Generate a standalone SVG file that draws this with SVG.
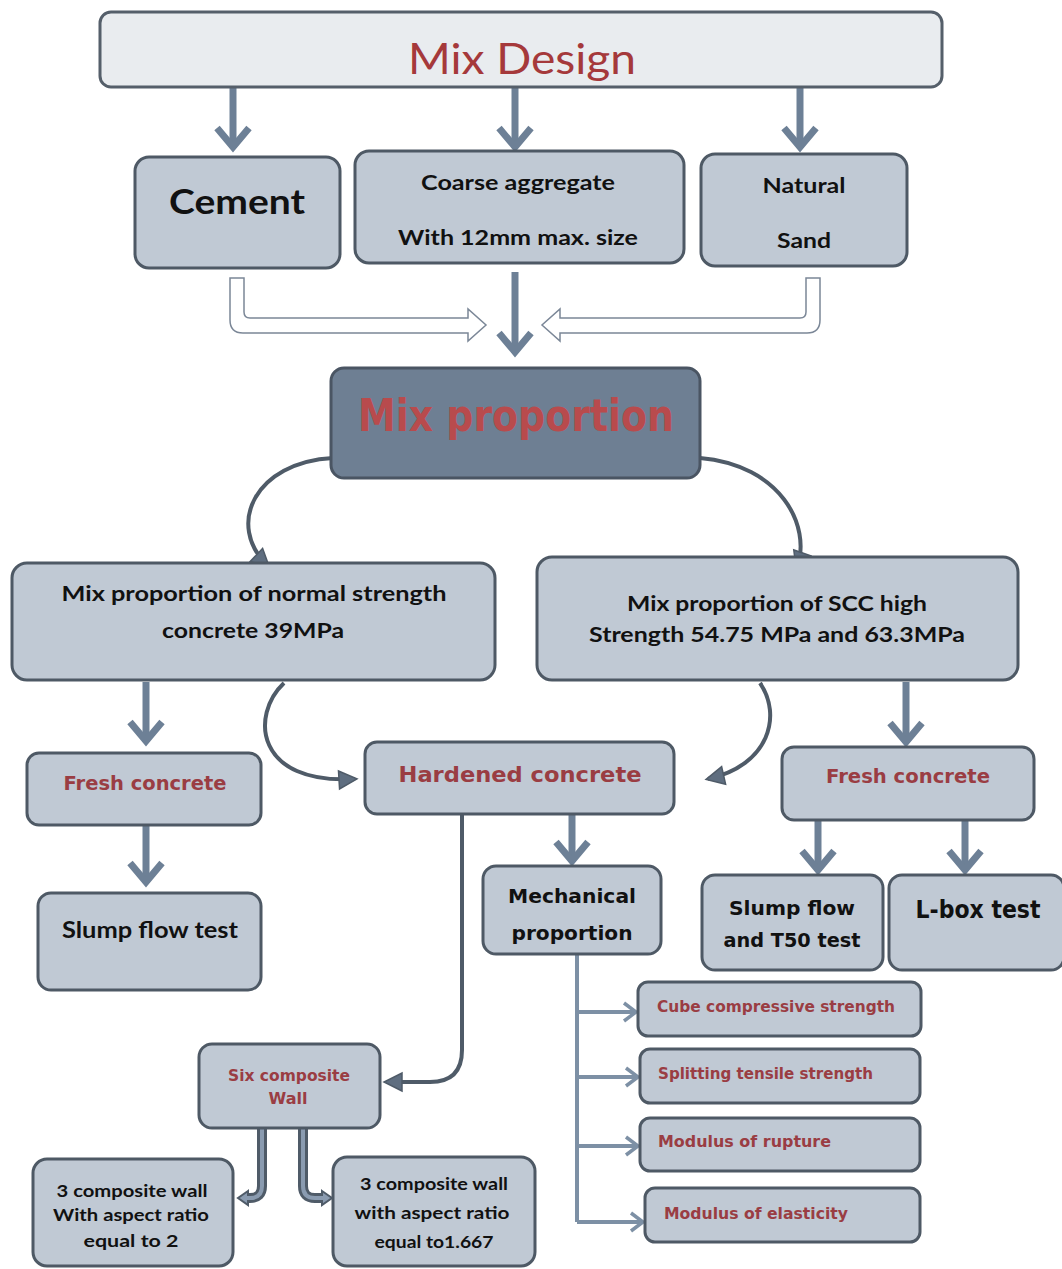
<svg xmlns="http://www.w3.org/2000/svg" width="1062" height="1269" viewBox="0 0 1062 1269">
<defs>
<style>
.box{fill:#c0c9d4;stroke:#4e5965;stroke-width:3}
.top{fill:#e9ecef;stroke:#555f6a;stroke-width:3}
.dark{fill:#6e7f93;stroke:#4a5563;stroke-width:3}
.thick{fill:none;stroke:#6d8096;stroke-width:7}
.thin{fill:none;stroke:#7d90a5;stroke-width:4}
.curve{fill:none;stroke:#4f5b68;stroke-width:4}
.hollow{fill:#ffffff;stroke:#7b8797;stroke-width:1.5}
.band{fill:none;stroke:#4f5b68;stroke-width:10}
.bandin{fill:none;stroke:#8a9bb0;stroke-width:4}
.c{font-family:Lato,"Liberation Sans",sans-serif;font-weight:bold;fill:#111111;text-anchor:middle}
.v{font-family:"DejaVu Sans","Liberation Sans",sans-serif;font-weight:bold;fill:#111111;text-anchor:middle}
.r{font-family:"DejaVu Sans","Liberation Sans",sans-serif;font-weight:bold;fill:#9a3d43}
</style>
<marker id="chev" viewBox="0 0 30 40" refX="25" refY="20" markerWidth="30" markerHeight="40" markerUnits="userSpaceOnUse" orient="auto">
<path d="M5,4 L24,20 L5,36" fill="none" stroke="#6d8096" stroke-width="7"/>
</marker>
<marker id="chevs" viewBox="0 0 20 24" refX="16" refY="12" markerWidth="20" markerHeight="24" markerUnits="userSpaceOnUse" orient="auto">
<path d="M4,3 L16,12 L4,21" fill="none" stroke="#7d90a5" stroke-width="3.5"/>
</marker>
<marker id="tri" viewBox="0 0 22 22" refX="18" refY="11" markerWidth="22" markerHeight="22" markerUnits="userSpaceOnUse" orient="auto">
<path d="M2,2 L20,11 L2,20 Z" fill="#5f6e80" stroke="#4f5b68" stroke-width="1.5"/>
</marker>
</defs>
<rect width="1062" height="1269" fill="#ffffff"/>

<g id="connectors">
<path class="thick" d="M233 87 V148" marker-end="url(#chev)"/>
<path class="thick" d="M515 87 V148" marker-end="url(#chev)"/>
<path class="thick" d="M800 87 V148" marker-end="url(#chev)"/>
<path class="thick" d="M515 272 V353" marker-end="url(#chev)"/>
<path class="hollow" d="M230 278 V320 Q230 333 243 333 H468 V341 L486 325 L468 309 V318 H250 Q244 318 244 312 V278 Z"/>
<path class="hollow" d="M820 278 V320 Q820 333 807 333 H560 V341 L542 325 L560 309 V318 H800 Q806 318 806 312 V278 Z"/>
<path class="curve" d="M333 458 C255 462 225 525 268 566" marker-end="url(#tri)"/>
<path class="curve" d="M700 458 C780 465 812 525 797 568" marker-end="url(#tri)"/>
<path class="thick" d="M146 682 V742" marker-end="url(#chev)"/>
<path class="thick" d="M146 826 V883" marker-end="url(#chev)"/>
<path class="curve" d="M284 683 C250 715 255 785 355 779" marker-end="url(#tri)"/>
<path class="curve" d="M760 683 C782 715 770 765 708 779" marker-end="url(#tri)"/>
<path class="thick" d="M906 682 V743" marker-end="url(#chev)"/>
<path class="thick" d="M818 821 V871" marker-end="url(#chev)"/>
<path class="thick" d="M965 821 V871" marker-end="url(#chev)"/>
<path class="thick" d="M572 815 V862" marker-end="url(#chev)"/>
<path class="curve" d="M462 815 V1050 Q462 1082 430 1082 H386" marker-end="url(#tri)"/>
<path class="thin" d="M577 954 V1222"/>
<path class="thin" d="M577 1012 H636" marker-end="url(#chevs)"/>
<path class="thin" d="M577 1077 H638" marker-end="url(#chevs)"/>
<path class="thin" d="M577 1146 H638" marker-end="url(#chevs)"/>
<path class="thin" d="M577 1222 H643" marker-end="url(#chevs)"/>
<path class="band" d="M262 1129 V1186 Q262 1198 250 1198 H247"/>
<path d="M248 1191 L238 1198 L248 1205 Z" fill="#8a9bb0" stroke="#4f5b68" stroke-width="2"/>
<path class="bandin" d="M262 1129 V1186 Q262 1198 250 1198 H246"/>
<path class="band" d="M303 1129 V1186 Q303 1198 315 1198 H323"/>
<path d="M322 1191 L332 1198 L322 1205 Z" fill="#8a9bb0" stroke="#4f5b68" stroke-width="2"/>
<path class="bandin" d="M303 1129 V1186 Q303 1198 315 1198 H324"/>
</g>

<g id="mix-design">
<rect class="top" x="100" y="12" width="842" height="75" rx="11"/>
<text x="522" y="74" font-family="Lato,'Liberation Sans',sans-serif" font-size="42" fill="#a5393b" text-anchor="middle" textLength="228" lengthAdjust="spacingAndGlyphs">Mix Design</text>
</g>
<g id="cement">
<rect class="box" x="135" y="157" width="205" height="111" rx="14"/>
<text class="c" x="237" y="214" font-size="34" textLength="136" lengthAdjust="spacingAndGlyphs">Cement</text>
</g>
<g id="coarse">
<rect class="box" x="355" y="151" width="329" height="112" rx="14"/>
<text class="c" x="518" y="190" font-size="21" textLength="194" lengthAdjust="spacingAndGlyphs">Coarse aggregate</text>
<text class="c" x="518" y="245" font-size="21" textLength="240" lengthAdjust="spacingAndGlyphs">With 12mm max. size</text>
</g>
<g id="sand">
<rect class="box" x="701" y="154" width="206" height="112" rx="14"/>
<text class="c" x="804" y="193" font-size="21" textLength="83" lengthAdjust="spacingAndGlyphs">Natural</text>
<text class="c" x="804" y="248" font-size="21" textLength="54" lengthAdjust="spacingAndGlyphs">Sand</text>
</g>
<g id="mix-proportion">
<rect class="dark" x="331" y="368" width="369" height="110" rx="13"/>
<text x="516" y="431" font-family="'DejaVu Sans',sans-serif" font-weight="bold" font-size="44" fill="#b84b4d" text-anchor="middle" textLength="316" lengthAdjust="spacingAndGlyphs">Mix proportion</text>
</g>
<g id="normal">
<rect class="box" x="12" y="563" width="483" height="117" rx="15"/>
<text class="c" x="254" y="601" font-size="21" textLength="385" lengthAdjust="spacingAndGlyphs">Mix proportion of normal strength</text>
<text class="c" x="253" y="638" font-size="21" textLength="182" lengthAdjust="spacingAndGlyphs">concrete 39MPa</text>
</g>
<g id="scc">
<rect class="box" x="537" y="557" width="481" height="123" rx="15"/>
<text class="c" x="777" y="611" font-size="21" textLength="300" lengthAdjust="spacingAndGlyphs">Mix proportion of SCC high</text>
<text class="c" x="777" y="642" font-size="21" textLength="376" lengthAdjust="spacingAndGlyphs">Strength 54.75 MPa and 63.3MPa</text>
</g>
<g id="fresh-left">
<rect class="box" x="27" y="753" width="234" height="72" rx="12"/>
<text class="r" x="145" y="790" font-size="19" text-anchor="middle" textLength="163" lengthAdjust="spacingAndGlyphs">Fresh concrete</text>
</g>
<g id="slump-left">
<rect class="box" x="38" y="893" width="223" height="97" rx="13"/>
<text class="c" x="150" y="938" font-size="22" textLength="176" lengthAdjust="spacingAndGlyphs">Slump flow test</text>
</g>
<g id="hardened">
<rect class="box" x="365" y="742" width="309" height="72" rx="12"/>
<text class="r" x="520" y="782" font-size="22" text-anchor="middle" textLength="243" lengthAdjust="spacingAndGlyphs">Hardened concrete</text>
</g>
<g id="fresh-right">
<rect class="box" x="782" y="747" width="252" height="73" rx="12"/>
<text class="r" x="908" y="783" font-size="19" text-anchor="middle" textLength="164" lengthAdjust="spacingAndGlyphs">Fresh concrete</text>
</g>
<g id="slump-t50">
<rect class="box" x="702" y="875" width="181" height="95" rx="13"/>
<text class="v" x="792" y="915" font-size="20" textLength="126" lengthAdjust="spacingAndGlyphs">Slump flow</text>
<text class="v" x="792" y="947" font-size="20" textLength="137" lengthAdjust="spacingAndGlyphs">and T50 test</text>
</g>
<g id="lbox">
<rect class="box" x="889" y="875" width="175" height="95" rx="13"/>
<text class="v" x="978" y="918" font-size="24" textLength="125" lengthAdjust="spacingAndGlyphs">L-box test</text>
</g>
<g id="mechanical">
<rect class="box" x="483" y="866" width="178" height="88" rx="13"/>
<text class="v" x="572" y="903" font-size="20" textLength="128" lengthAdjust="spacingAndGlyphs">Mechanical</text>
<text class="v" x="572" y="940" font-size="20" textLength="121" lengthAdjust="spacingAndGlyphs">proportion</text>
</g>
<g id="cube">
<rect class="box" x="638" y="982" width="283" height="54" rx="10"/>
<text class="r" x="657" y="1012" font-size="16" textLength="238" lengthAdjust="spacingAndGlyphs">Cube compressive strength</text>
</g>
<g id="splitting">
<rect class="box" x="640" y="1049" width="280" height="54" rx="10"/>
<text class="r" x="658" y="1079" font-size="16" textLength="215" lengthAdjust="spacingAndGlyphs">Splitting tensile strength</text>
</g>
<g id="rupture">
<rect class="box" x="640" y="1118" width="280" height="53" rx="10"/>
<text class="r" x="658" y="1147" font-size="16" textLength="173" lengthAdjust="spacingAndGlyphs">Modulus of rupture</text>
</g>
<g id="elasticity">
<rect class="box" x="645" y="1188" width="275" height="54" rx="10"/>
<text class="r" x="664" y="1219" font-size="16" textLength="184" lengthAdjust="spacingAndGlyphs">Modulus of elasticity</text>
</g>
<g id="six-wall">
<rect class="box" x="199" y="1044" width="181" height="84" rx="13"/>
<text class="r" x="289" y="1081" font-size="16" text-anchor="middle" textLength="122" lengthAdjust="spacingAndGlyphs">Six composite</text>
<text class="r" x="288" y="1104" font-size="16" text-anchor="middle" textLength="39" lengthAdjust="spacingAndGlyphs">Wall</text>
</g>
<g id="wall-2">
<rect class="box" x="33" y="1159" width="200" height="107" rx="14"/>
<text class="c" x="132" y="1197" font-size="17" textLength="151" lengthAdjust="spacingAndGlyphs">3 composite wall</text>
<text class="c" x="131" y="1221" font-size="17" textLength="156" lengthAdjust="spacingAndGlyphs">With aspect ratio</text>
<text class="c" x="131" y="1247" font-size="17" textLength="95" lengthAdjust="spacingAndGlyphs">equal to 2</text>
</g>
<g id="wall-1667">
<rect class="box" x="333" y="1157" width="202" height="109" rx="14"/>
<text class="c" x="434" y="1190" font-size="17" textLength="148" lengthAdjust="spacingAndGlyphs">3 composite wall</text>
<text class="c" x="432" y="1219" font-size="17" textLength="155" lengthAdjust="spacingAndGlyphs">with aspect ratio</text>
<text class="c" x="434" y="1248" font-size="17" textLength="119" lengthAdjust="spacingAndGlyphs">equal to1.667</text>
</g>
</svg>
